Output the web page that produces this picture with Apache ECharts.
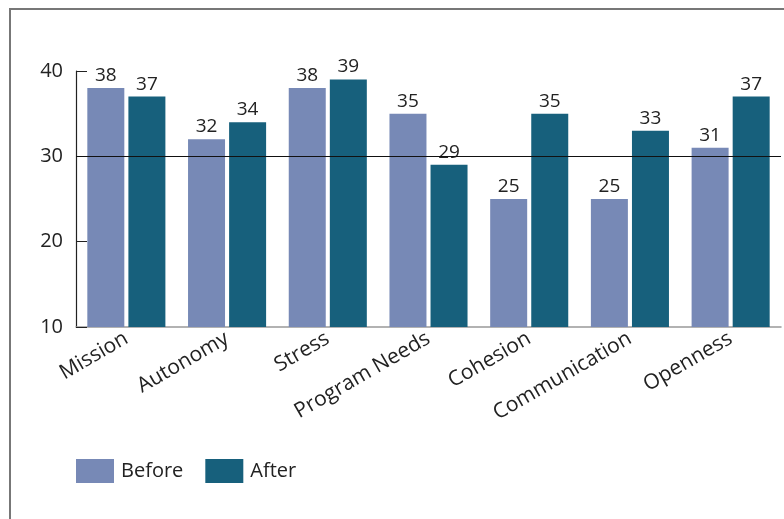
<!DOCTYPE html>
<html>
<head>
<meta charset="utf-8">
<script src="https://cdn.jsdelivr.net/npm/echarts@6/dist/echarts.min.js"></script>
<style>
html,body{margin:0;padding:0;background:#fff;}
#frame{position:absolute;left:9px;top:8px;width:790px;height:530px;border-left:2px solid #777;border-top:2px solid #777;box-sizing:border-box;}
#chart{position:absolute;left:0;top:0;width:784px;height:519px;}
</style>
</head>
<body>
<div id="frame"></div>
<div id="chart"></div>
<script>
const categories = ['Mission','Autonomy','Stress','Program Needs','Cohesion','Communication','Openness'];
const beforeValues = [38,32,38,35,25,25,31];
const afterValues = [37,34,39,29,35,33,37];
const yTicks = [10,20,30,40];
const referenceValue = 30;

const font = 'Open Sans';
const chart = echarts.init(document.getElementById('chart'));
const labelStyle = {show:true, position:'top', distance:3, color:'#222', fontSize:19, fontFamily:font};
chart.setOption({
  animation:false,
  textStyle:{fontFamily:font},
  legend:{
    left:71, top:454, itemWidth:38, itemHeight:24, itemGap:22,
    icon:'rect',
    textStyle:{fontSize:20, color:'#222', fontFamily:font, padding:[7,0,0,2]},
    data:['Before','After']
  },
  grid:{left:76, right:3, top:71, bottom:192},
  xAxis:{
    type:'category', data:categories,
    axisLine:{lineStyle:{color:'#999', width:1.5}},
    axisTick:{inside:true, length:5, lineStyle:{color:'#555'}},
    axisLabel:{rotate:30, margin:10, fontSize:21, color:'#222', fontFamily:font, interval:0}
  },
  yAxis:{
    type:'value', min:yTicks[0], max:yTicks[yTicks.length-1], interval:10,
    axisLine:{show:true, lineStyle:{color:'#222', width:1.2}},
    axisTick:{show:true, inside:true, length:11, lineStyle:{color:'#222'}},
    splitLine:{show:false},
    axisLabel:{fontSize:20, color:'#222', fontFamily:font, margin:13}
  },
  series:[
    {name:'Before', type:'bar', data:beforeValues, barWidth:37, barGap:'11%',
     itemStyle:{color:'#7789b6'}, label:labelStyle,
     markLine:{silent:true, symbol:'none', label:{show:false},
       lineStyle:{color:'#111', width:1.2, type:'solid'},
       data:[{yAxis:referenceValue}]}},
    {name:'After', type:'bar', data:afterValues, barWidth:37,
     itemStyle:{color:'#17607c'}, label:labelStyle}
  ]
});
</script>
</body>
</html>
